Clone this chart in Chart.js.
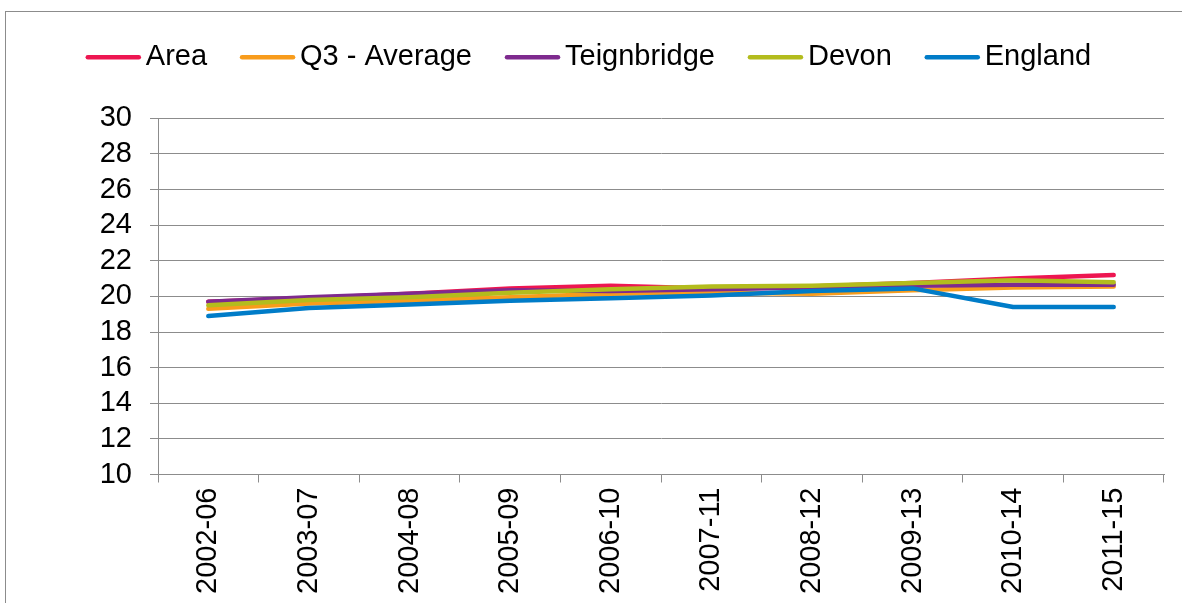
<!DOCTYPE html>
<html>
<head>
<meta charset="utf-8">
<script src="https://cdn.jsdelivr.net/npm/chart.js@4.4.1/dist/chart.umd.min.js"></script>
<style>
  html, body { margin: 0; padding: 0; background: #fff; overflow: hidden; }
  #wrap { position: relative; width: 1182px; height: 603px; overflow: hidden; }
  #frame { position: absolute; left: 5px; top: 11px; width: 1300px; height: 800px; border: 1px solid #8c8c8c; box-sizing: border-box; }
  canvas { position: absolute; left: 0; top: 0; }
</style>
</head>
<body>
<div id="wrap">
  <div id="frame"></div>
  <canvas id="c" width="1182" height="603"></canvas>
</div>
<script>
const categories = ["2002-06","2003-07","2004-08","2005-09","2006-10","2007-11","2008-12","2009-13","2010-14","2011-15"];
const seriesNames = ["Area","Q3 - Average","Teignbridge","Devon","England"];
const areaValues = [19.7, 19.9, 20.15, 20.45, 20.6, 20.45, 20.55, 20.75, 21.0, 21.2];
const q3Values = [19.3, 19.6, 19.75, 19.95, 20.15, 20.2, 20.15, 20.35, 20.5, 20.55];
const teignbridgeValues = [19.7, 19.95, 20.15, 20.35, 20.3, 20.4, 20.5, 20.6, 20.65, 20.65];
const devonValues = [19.5, 19.8, 19.95, 20.2, 20.4, 20.55, 20.6, 20.75, 20.9, 20.8];
const englandValues = [18.9, 19.35, 19.55, 19.75, 19.9, 20.05, 20.3, 20.45, 19.4, 19.4];
const yTickValues = [10, 12, 14, 16, 18, 20, 22, 24, 26, 28, 30];

const colors = ["#ED1651", "#F89C1C", "#7E2A8E", "#B3BC1D", "#007CC8"];
const allValues = [areaValues, q3Values, teignbridgeValues, devonValues, englandValues];
const drawOrder = [4, 3, 2, 1, 0];
const FONT = "'Liberation Sans', Arial, sans-serif";
const FS = 29;

const datasets = seriesNames.map((name, i) => ({
  label: name,
  data: allValues[i],
  borderColor: colors[i],
  backgroundColor: colors[i],
  borderWidth: 4.5,
  pointRadius: 0,
  pointHoverRadius: 0,
  tension: 0,
  fill: false,
  borderCapStyle: 'round',
  borderJoinStyle: 'round',
  order: drawOrder[i]
}));

const legendPlugin = {
  id: 'customLegend',
  afterDraw(chart) {
    const ctx = chart.ctx;
    ctx.save();
    ctx.font = FS + 'px ' + FONT;
    const sample = 55, gap = 5, spacing = 33;
    const items = chart.data.datasets.map(d => ({ label: d.label, color: d.borderColor, w: ctx.measureText(d.label).width }));
    let total = items.reduce((s, it) => s + sample + gap + it.w, 0) + spacing * (items.length - 1);
    let x = 588.5 - total / 2;
    const y = 57.3;
    items.forEach(it => {
      ctx.strokeStyle = it.color;
      ctx.lineWidth = 4.5;
      ctx.lineCap = 'round';
      ctx.beginPath();
      ctx.moveTo(x + 2, y);
      ctx.lineTo(x + sample - 2, y);
      ctx.stroke();
      ctx.fillStyle = '#000';
      ctx.textBaseline = 'middle';
      ctx.textAlign = 'left';
      ctx.fillText(it.label, x + sample + gap, y);
      x += sample + gap + it.w + spacing;
    });
    ctx.restore();
  }
};

new Chart(document.getElementById('c'), {
  type: 'line',
  data: { labels: categories, datasets },
  options: {
    responsive: false,
    animation: false,
    events: [],
    layout: { padding: { left: 0, right: 18, top: 118.3, bottom: 0 } },
    plugins: { legend: { display: false }, tooltip: { enabled: false }, title: { display: false } },
    scales: {
      x: {
        type: 'category',
        offset: true,
        afterFit: s => { s.height = 603 - 474.5; },
        grid: { display: true, offset: true, drawOnChartArea: false, drawTicks: true, tickLength: 8, color: '#8c8c8c', lineWidth: 1 },
        border: { display: true, color: '#8c8c8c', width: 1 },
        ticks: { color: '#000', font: { family: FONT, size: FS }, minRotation: 90, maxRotation: 90, padding: 5, autoSkip: false }
      },
      y: {
        min: 10, max: 30,
        afterFit: s => { s.width = 158; },
        afterBuildTicks: s => { s.ticks = yTickValues.map(v => ({ value: v })); },
        grid: { display: true, drawTicks: true, tickLength: 8, color: '#8c8c8c', lineWidth: 1 },
        border: { display: true, color: '#8c8c8c', width: 1 },
        ticks: { color: '#000', font: { family: FONT, size: FS }, padding: 18, autoSkip: false }
      }
    }
  },
  plugins: [legendPlugin]
});
</script>
</body>
</html>
